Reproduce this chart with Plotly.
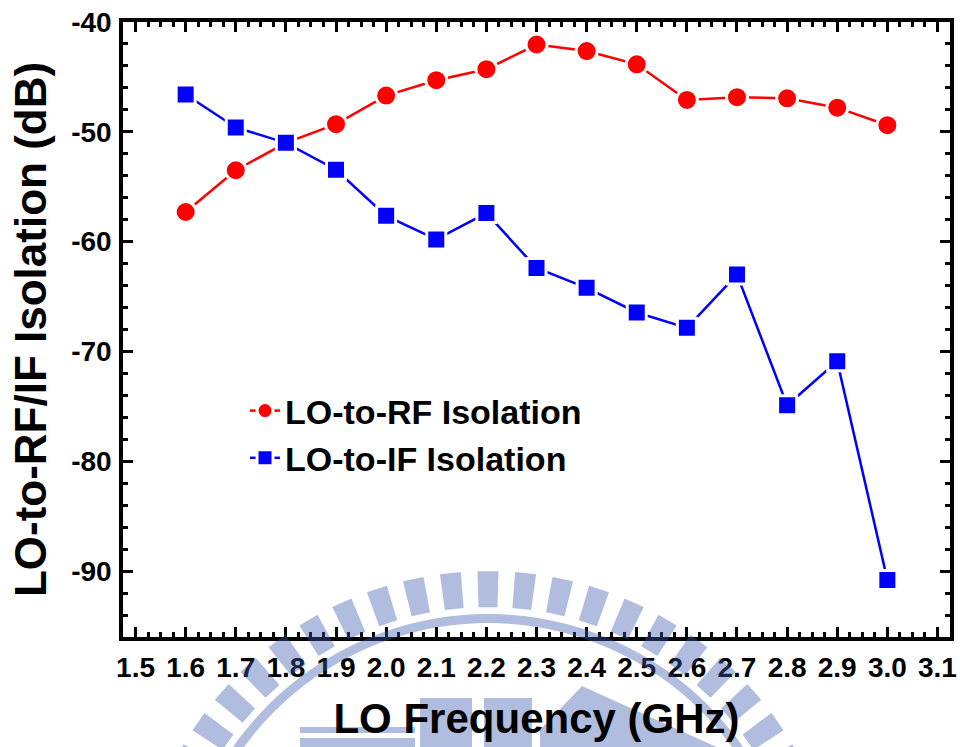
import math
import plotly.graph_objects as go

# ---- data ----
freq_ghz = [1.6, 1.7, 1.8, 1.9, 2.0, 2.1, 2.2, 2.3, 2.4, 2.5, 2.6, 2.7, 2.8, 2.9, 3.0]
lo_rf_iso = [-57.3, -53.5, -51.0, -49.3, -46.7, -45.3, -44.3, -42.05, -42.65, -43.85,
             -47.1, -46.85, -46.95, -47.8, -49.4]
lo_if_iso = [-46.6, -49.6, -51.0, -53.45, -57.65, -59.8, -57.4, -62.4, -64.2, -66.45,
             -67.85, -63.0, -74.9, -70.9, -90.8]
series_names = ["LO-to-RF Isolation", "LO-to-IF Isolation"]
x_ticks = [1.5, 1.6, 1.7, 1.8, 1.9, 2.0, 2.1, 2.2, 2.3, 2.4, 2.5, 2.6, 2.7, 2.8, 2.9, 3.0, 3.1]
x_ticklabels = ["1.5", "1.6", "1.7", "1.8", "1.9", "2.0", "2.1", "2.2", "2.3", "2.4",
                "2.5", "2.6", "2.7", "2.8", "2.9", "3.0", "3.1"]
y_ticks = [-90, -80, -70, -60, -50, -40]
y_ticklabels = ["-90", "-80", "-70", "-60", "-50", "-40"]
x_title = "LO Frequency (GHz)"
y_title = "LO-to-RF/IF Isolation (dB)"

W, H = 960, 747
ML, MR, MT, MB = 123, 10, 22, 110
PW, PH = W - ML - MR, H - MT - MB
FONT = "Liberation Sans, Arial, sans-serif"
X_RANGE = [1.475, 3.125]
Y_RANGE = [-96, -40]


def px(x, y):
    return (x - ML) / PW, (H - MB - y) / PH


def poly(points):
    s = ""
    for i, (x, y) in enumerate(points):
        u, v = px(x, y)
        s += ("M" if i == 0 else "L") + f"{u:.5f},{v:.5f}"
    return s + "Z"


# ---- watermark (decorative logo) ----
cx, cy = 488, 925
wm = []
a = 90.0 - 6.1 * 13
while a <= 170.0:
    a0, a1 = math.radians(a - 1.7), math.radians(a + 1.7)
    r1, r2 = 318, 354
    pts = [(cx + r1 * math.cos(a0), cy - r1 * math.sin(a0)),
           (cx + r2 * math.cos(a0), cy - r2 * math.sin(a0)),
           (cx + r2 * math.cos(a1), cy - r2 * math.sin(a1)),
           (cx + r1 * math.cos(a1), cy - r1 * math.sin(a1))]
    wm.append(poly(pts))
    a += 6.1
outer = [(cx + 311 * math.cos(math.radians(t)), cy - 311 * math.sin(math.radians(t))) for t in range(5, 176, 2)]
inner = [(cx + 302 * math.cos(math.radians(t)), cy - 302 * math.sin(math.radians(t))) for t in range(175, 4, -2)]
wm.append(poly(outer + inner))
wm.append(poly([(300, 727), (415, 727), (415, 733), (300, 733)]))
wm.append(poly([(300, 738), (415, 738), (415, 760), (300, 760)]))
wm.append(poly([(420, 698), (472, 698), (472, 760), (420, 760)]))
wm.append(poly([(484, 698), (532, 698), (532, 760), (484, 760)]))
wm.append(poly([(540, 730), (582, 686), (745, 760), (540, 760)]))
wm_path = " ".join(wm)

fig = go.Figure()
fig.add_trace(go.Scatter(
    x=freq_ghz, y=lo_rf_iso, name=series_names[0], mode="lines+markers",
    line=dict(color="#ff0000", width=2.5),
    marker=dict(symbol="circle", size=21, color="#ff0000", line=dict(color="white", width=3)),
))
fig.add_trace(go.Scatter(
    x=freq_ghz, y=lo_if_iso, name=series_names[1], mode="lines+markers",
    line=dict(color="#0000ff", width=2.5),
    marker=dict(symbol="square", size=19, color="#0000ff", line=dict(color="white", width=3)),
))

tickfont = dict(family=FONT, size=28, color="black", weight="bold")
common = dict(showline=True, linecolor="black", linewidth=3.5, ticks="inside", ticklen=10,
              tickwidth=3, tickcolor="black", showgrid=False, zeroline=False, automargin=False)

fig.update_layout(
    width=W, height=H,
    margin=dict(l=ML, r=MR, t=MT, b=MB, autoexpand=False),
    paper_bgcolor="white", plot_bgcolor="white",
    xaxis=dict(
        range=X_RANGE, tickvals=x_ticks, ticktext=x_ticklabels, tickfont=tickfont,
        minor=dict(dtick=0.025, tick0=1.5, ticks="inside", ticklen=5, tickwidth=3, tickcolor="black"),
        title=dict(text=x_title, font=dict(family=FONT, size=42, color="black", weight="bold"), standoff=22),
        ticklabelstandoff=3, mirror=True, **common,
    ),
    yaxis=dict(
        range=Y_RANGE, tickvals=y_ticks, ticktext=y_ticklabels, tickfont=tickfont,
        minor=dict(dtick=2, tick0=-40, ticks="inside", ticklen=5, tickwidth=3, tickcolor="black"),
        title=dict(text=y_title, font=dict(family=FONT, size=44, color="black", weight="bold"), standoff=12),
        ticklabelstandoff=2, mirror=True, **common,
    ),
    xaxis2=dict(
        range=X_RANGE, overlaying="x", side="top", tickvals=x_ticks, showticklabels=False,
        minor=dict(dtick=0.025, tick0=1.5, ticks="inside", ticklen=5, tickwidth=3, tickcolor="black"),
        **common,
    ),
    yaxis2=dict(
        range=Y_RANGE, overlaying="y", side="right", tickvals=y_ticks, showticklabels=False,
        minor=dict(dtick=2, tick0=-40, ticks="inside", ticklen=5, tickwidth=3, tickcolor="black"),
        **common,
    ),
    showlegend=True,
    legend=dict(
        x=(245 - ML) / PW, y=(H - MB - 382) / PH, xanchor="left", yanchor="top",
        bgcolor="rgba(0,0,0,0)", borderwidth=0,
        font=dict(family=FONT, size=34, color="black", weight="bold"),
        itemwidth=30,
    ),
    shapes=[dict(type="path", path=wm_path, xref="paper", yref="paper",
                 fillcolor="rgb(60,90,175)", opacity=0.4, line=dict(width=0), layer="above")],
)
# invisible helper trace so the mirrored tick axes are rendered
fig.add_trace(go.Scatter(x=[X_RANGE[0]], y=[Y_RANGE[0]], xaxis="x2", yaxis="y2", mode="markers",
                         marker=dict(opacity=0), showlegend=False, hoverinfo="skip"))

fig.write_html("out.html")
